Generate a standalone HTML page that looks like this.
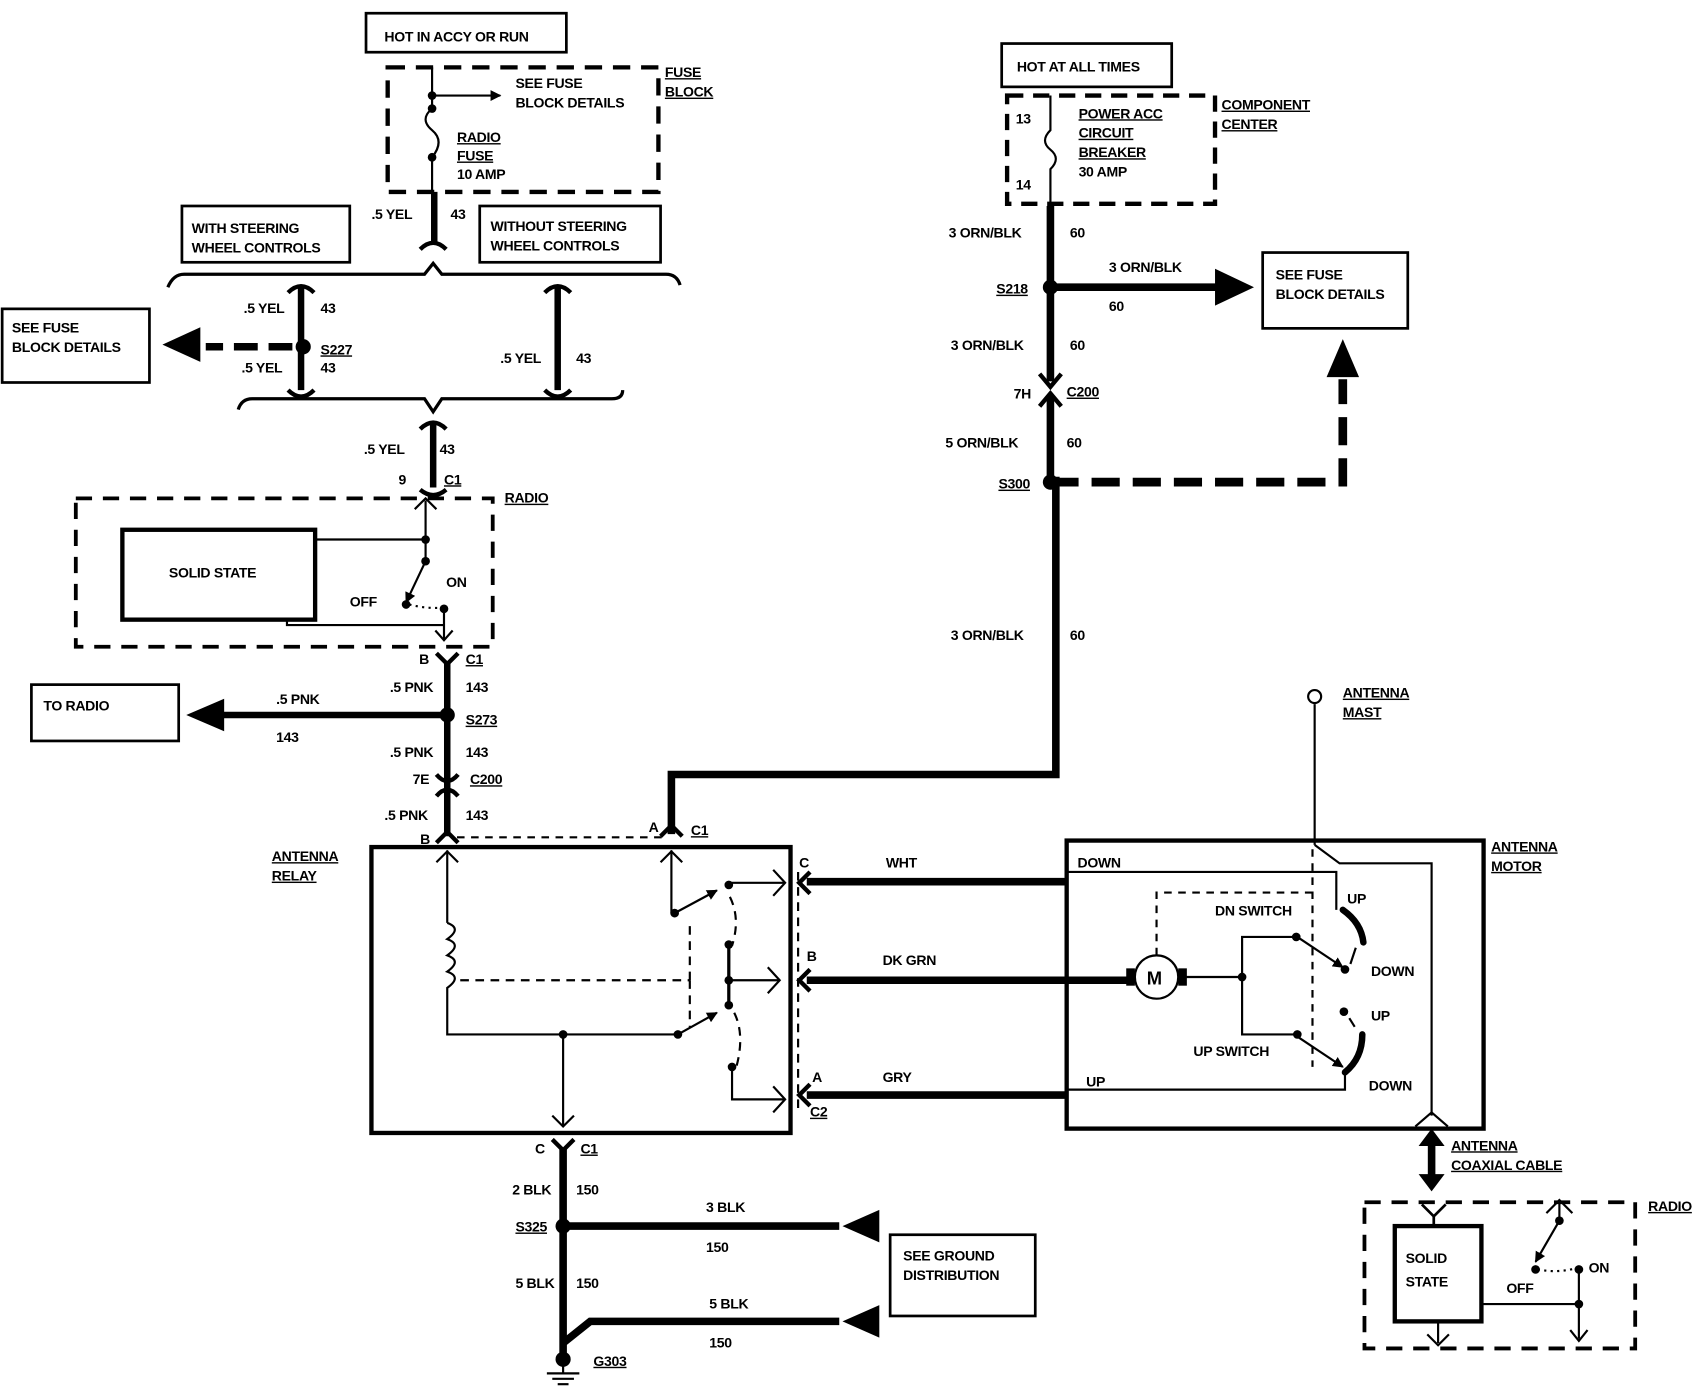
<!DOCTYPE html>
<html><head><meta charset="utf-8"><style>
html,body{margin:0;padding:0;background:#fff;}
svg{display:block}
text{font-family:"Liberation Sans",sans-serif;font-weight:bold;font-size:13px;fill:#000;letter-spacing:-0.3px}
</style></head><body>
<svg width="1698" height="1392" viewBox="0 0 1568 1285" xmlns="http://www.w3.org/2000/svg">
<defs>
<marker id="ah" markerWidth="10" markerHeight="10" refX="9" refY="5" orient="auto" markerUnits="userSpaceOnUse"><path d="M0,0 L10,5 L0,10 z" fill="#000"/></marker>
</defs>
<g fill="none" stroke="#000" stroke-width="2">
<rect x="338" y="12" width="185" height="36" stroke-width="2.5"/>
<rect x="358" y="62" width="250" height="115" stroke-width="4" stroke-dasharray="16,10"/>
<line x1="399" y1="62" x2="399" y2="100"/>
<line x1="399" y1="88" x2="462" y2="88" marker-end="url(#ah)"/>
<path d="M399,100 q-12,10 0,20 q12,10 0,25 L399,190"/>
<line x1="401" y1="177" x2="401" y2="225" stroke-width="6"/>
<path d="M388,230 q12,-12 24,0" stroke-width="4"/>
<rect x="168" y="190" width="155" height="52" stroke-width="2.5"/>
<rect x="443" y="190" width="167" height="52" stroke-width="2.5"/>
<path d="M155,265 q5,-12 15,-12 L392,253 L400,243 L408,253 L615,253 q10,0 13,10" stroke-width="3"/>
<line x1="278" y1="265" x2="278" y2="360" stroke-width="6"/>
<path d="M266,270 q12,-12 24,0 M266,360 q12,12 24,0" stroke-width="4"/>
<line x1="270" y1="320" x2="190" y2="320" stroke-width="7" stroke-dasharray="22,10"/>
<rect x="2" y="285" width="136" height="68" stroke-width="2.5"/>
<line x1="515" y1="265" x2="515" y2="360" stroke-width="6"/>
<path d="M503,270 q12,-12 24,0 M503,360 q12,12 24,0" stroke-width="4"/>
<path d="M220,378 q3,-10 13,-10 L392,368 L400,380 L408,368 L565,368 q10,0 10,-8" stroke-width="3"/>
<line x1="400" y1="390" x2="400" y2="450" stroke-width="6"/>
<path d="M388,396 q12,-12 24,0 M388,452 q12,10 24,0" stroke-width="4"/>
<rect x="70" y="460" width="385" height="137" stroke-width="3.5" stroke-dasharray="15,10"/>
<rect x="113" y="489" width="178" height="83" stroke-width="4"/>
<line x1="393" y1="462" x2="393" y2="518"/>
<path d="M383,470 l10,-10 l10,10"/>
<line x1="291" y1="498" x2="393" y2="498"/>
<line x1="393" y1="518" x2="375" y2="556" marker-end="url(#ah)"/>
<path d="M378,558 q15,4 32,3" stroke-dasharray="2,4"/>
<line x1="410" y1="562" x2="410" y2="590"/>
<path d="M402,582 l8,9 l8,-9"/>
<polyline points="265,572 265,577 410,577"/>
<path d="M403,603 l10,10 l10,-10" stroke-width="4"/>
<line x1="413" y1="612" x2="413" y2="772" stroke-width="6"/>
<line x1="413" y1="660" x2="205" y2="660" stroke-width="6"/>
<rect x="29" y="632" width="136" height="52" stroke-width="2.5"/>
<path d="M403,715 q10,12 20,0 M403,735 q10,-12 20,0" stroke-width="4"/>
<path d="M403,778 l10,-10 l10,10" stroke-width="4"/>
<line x1="422" y1="773" x2="612" y2="773" stroke-dasharray="7,6"/>
<rect x="343" y="782" width="387" height="264" stroke-width="4"/>
<line x1="413" y1="785" x2="413" y2="852"/>
<path d="M403,796 l10,-10 l10,10"/>
<path d="M413,852 q14,5 0,15 q14,5 0,15 q14,5 0,15 q14,5 0,15 L413,955 L625,955"/>
<line x1="425" y1="905" x2="637" y2="905" stroke-dasharray="8,6"/>
<line x1="637" y1="905" x2="637" y2="850" stroke-dasharray="8,6"/>
<line x1="637" y1="905" x2="637" y2="948" stroke-dasharray="8,6"/>
<line x1="520" y1="955" x2="520" y2="1040"/>
<path d="M510,1030 l10,10 l10,-10"/>
<line x1="620" y1="785" x2="620" y2="843"/>
<path d="M610,796 l10,-10 l10,10"/>
<line x1="623" y1="843" x2="662" y2="822" marker-end="url(#ah)"/>
<line x1="673" y1="815" x2="725" y2="815"/>
<path d="M714,803 l11,12 l-11,12"/>
<path d="M674,828 q10,20 2,45" stroke-dasharray="8,6"/>
<line x1="673" y1="872" x2="673" y2="928" stroke-width="3"/>
<line x1="673" y1="905" x2="720" y2="905"/>
<path d="M709,893 l11,12 l-11,12"/>
<line x1="626" y1="955" x2="662" y2="935" marker-end="url(#ah)"/>
<path d="M678,935 q10,20 2,50" stroke-dasharray="8,6"/>
<polyline points="676,985 676,1015 725,1015"/>
<path d="M714,1003 l11,12 l-11,12"/>
<line x1="737" y1="805" x2="737" y2="1025" stroke-dasharray="8,6"/>
<path d="M748,805 l-10,10 l10,10 M748,895 l-10,10 l10,10 M748,1001 l-10,10 l10,10" stroke-width="4"/>
<line x1="745" y1="814" x2="985" y2="814" stroke-width="7"/>
<line x1="745" y1="905" x2="1045" y2="905" stroke-width="7"/>
<line x1="745" y1="1011" x2="985" y2="1011" stroke-width="7"/>
<polyline points="620,770 620,715 975,715 975,440" stroke-width="7"/>
<path d="M610,772 l10,-10 l10,10" stroke-width="4"/>
<rect x="925" y="40" width="157" height="40" stroke-width="2.5"/>
<rect x="930" y="88" width="192" height="100" stroke-width="4" stroke-dasharray="15,9"/>
<path d="M970,88 L970,120 q-10,10 0,18 q10,8 0,18 L970,200"/>
<line x1="970" y1="190" x2="970" y2="352" stroke-width="7"/>
<path d="M960,345 l10,12 l10,-12" stroke-width="4"/>
<path d="M960,375 l10,-12 l10,12" stroke-width="4"/>
<line x1="970" y1="365" x2="970" y2="445" stroke-width="7"/>
<line x1="970" y1="265" x2="1125" y2="265" stroke-width="7"/>
<rect x="1166" y="233" width="134" height="70" stroke-width="2.5"/>
<polyline points="970,445 1240,445 1240,350" stroke-width="8" stroke-dasharray="26,12"/>
<rect x="985" y="776" width="385" height="266" stroke-width="4"/>
<polyline points="985,805 1234,805 1234,840"/>
<line x1="1045" y1="905" x2="985" y2="905"/>
<circle cx="1068" cy="902" r="20"/>
<line x1="1090" y1="902" x2="1147" y2="902"/>
<polyline points="1197,865 1147,865 1147,955 1198,955"/>
<line x1="1198" y1="865" x2="1240" y2="893" marker-end="url(#ah)"/>
<line x1="1198" y1="957" x2="1240" y2="985" marker-end="url(#ah)"/>
<path d="M1240,840 q17,12 19,30" stroke-width="6" stroke-linecap="round"/>
<path d="M1258,955 q0,22 -16,35" stroke-width="6" stroke-linecap="round"/>
<line x1="1252" y1="875" x2="1247" y2="890"/>
<line x1="1246" y1="940" x2="1251" y2="948"/>
<polyline points="985,1006 1242,1006 1242,990"/>
<polyline points="1068,882 1068,824 1212,824" stroke-dasharray="7,6"/>
<line x1="1212" y1="784" x2="1212" y2="985" stroke-dasharray="7,6"/>
<line x1="1214" y1="650" x2="1214" y2="780"/>
<circle cx="1214" cy="643" r="6"/>
<polyline points="1214,780 1237,797 1322,797 1322,1030"/>
<path d="M1307,1040 l15,-13 l15,13"/>
<line x1="1322" y1="1052" x2="1322" y2="1088" stroke-width="7"/>
<rect x="1260" y="1110" width="250" height="135" stroke-width="3.5" stroke-dasharray="15,10"/>
<rect x="1288" y="1132" width="80" height="88" stroke-width="4"/>
<path d="M1313,1112 l11,11 l11,-11 M1324,1123 l0,9" stroke-width="2.5"/>
<line x1="1328" y1="1220" x2="1328" y2="1240"/>
<path d="M1318,1232 l10,10 l10,-10"/>
<line x1="1440" y1="1110" x2="1440" y2="1127"/>
<path d="M1428,1120 l12,-12 l12,12"/>
<line x1="1440" y1="1127" x2="1418" y2="1165" marker-end="url(#ah)"/>
<path d="M1420,1172 q20,4 38,-2" stroke-dasharray="2,4"/>
<polyline points="1368,1204 1458,1204 1458,1236"/>
<line x1="1458" y1="1172" x2="1458" y2="1204"/>
<path d="M1450,1228 l8,10 l8,-10"/>
<path d="M510,1052 l10,10 l10,-10" stroke-width="4"/>
<line x1="520" y1="1060" x2="520" y2="1255" stroke-width="7"/>
<line x1="520" y1="1132" x2="775" y2="1132" stroke-width="7"/>
<polyline points="520,1240 545,1220 775,1220" stroke-width="7"/>
<rect x="822" y="1140" width="134" height="75" stroke-width="2.5"/>
<line x1="520" y1="1255" x2="520" y2="1268"/>
<line x1="505" y1="1268" x2="535" y2="1268"/>
<line x1="510" y1="1273" x2="530" y2="1273"/>
<line x1="515" y1="1278" x2="525" y2="1278"/>
</g>
<g fill="#000">
<circle cx="399" cy="88" r="4"/><circle cx="399" cy="100" r="4"/><circle cx="399" cy="145" r="4"/>
<circle cx="280" cy="320" r="7"/>
<polygon points="150,318 185,302 185,334"/>
<circle cx="393" cy="498" r="4"/><circle cx="393" cy="518" r="4"/><circle cx="375" cy="558" r="4"/><circle cx="410" cy="562" r="4"/>
<circle cx="413" cy="660" r="7"/>
<polygon points="172,660 207,645 207,675"/>
<circle cx="623" cy="843" r="4"/><circle cx="673" cy="817" r="4"/><circle cx="673" cy="872" r="4"/><circle cx="673" cy="905" r="4"/><circle cx="673" cy="928" r="4"/><circle cx="626" cy="955" r="4"/><circle cx="520" cy="955" r="4"/><circle cx="676" cy="985" r="4"/>
<circle cx="970" cy="265" r="7"/><circle cx="970" cy="445" r="7"/>
<polygon points="1158,265 1122,248 1122,282"/>
<polygon points="1240,313 1225,348 1255,348"/>
<rect x="1040" y="894" width="8" height="16"/><rect x="1088" y="894" width="8" height="16"/>
<circle cx="1147" cy="902" r="4"/><circle cx="1197" cy="865" r="4"/><circle cx="1198" cy="955" r="4"/><circle cx="1242" cy="895" r="4"/><circle cx="1241" cy="934" r="4"/>
<polygon points="1322,1042 1310,1058 1334,1058"/><polygon points="1322,1100 1310,1084 1334,1084"/>
<circle cx="1440" cy="1127" r="4"/><circle cx="1418" cy="1172" r="4"/><circle cx="1458" cy="1172" r="4"/><circle cx="1458" cy="1204" r="4"/>
<circle cx="520" cy="1132" r="7"/><circle cx="520" cy="1255" r="7"/>
<polygon points="778,1132 812,1117 812,1147"/><polygon points="778,1220 812,1205 812,1235"/>
</g>
<g>
<text x="1059" y="909" style="font-size:17px">M</text>
<text x="355" y="38">HOT IN ACCY OR RUN</text>
<text x="476" y="81">SEE FUSE</text><text x="476" y="99">BLOCK DETAILS</text>
<text x="614" y="71" text-decoration="underline">FUSE</text><text x="614" y="89" text-decoration="underline">BLOCK</text>
<text x="422" y="131" text-decoration="underline">RADIO</text><text x="422" y="148" text-decoration="underline">FUSE</text><text x="422" y="165">10 AMP</text>
<text x="343" y="202">.5 YEL</text><text x="416" y="202">43</text>
<text x="177" y="215">WITH STEERING</text><text x="177" y="233">WHEEL CONTROLS</text>
<text x="453" y="213">WITHOUT STEERING</text><text x="453" y="231">WHEEL CONTROLS</text>
<text x="11" y="307">SEE FUSE</text><text x="11" y="325">BLOCK DETAILS</text>
<text x="225" y="289">.5 YEL</text><text x="296" y="289">43</text>
<text x="296" y="327" text-decoration="underline">S227</text><text x="296" y="344">43</text>
<text x="223" y="344">.5 YEL</text>
<text x="462" y="335">.5 YEL</text><text x="532" y="335">43</text>
<text x="336" y="419">.5 YEL</text><text x="406" y="419">43</text>
<text x="368" y="447">9</text><text x="410" y="447" text-decoration="underline">C1</text>
<text x="466" y="464" text-decoration="underline">RADIO</text>
<text x="156" y="533">SOLID STATE</text>
<text x="323" y="560">OFF</text><text x="412" y="542">ON</text>
<text x="387" y="613">B</text><text x="430" y="613" text-decoration="underline">C1</text>
<text x="40" y="656">TO RADIO</text>
<text x="360" y="639">.5 PNK</text><text x="430" y="639">143</text>
<text x="255" y="650">.5 PNK</text><text x="255" y="685">143</text>
<text x="430" y="669" text-decoration="underline">S273</text>
<text x="360" y="699">.5 PNK</text><text x="430" y="699">143</text>
<text x="381" y="724">7E</text><text x="434" y="724" text-decoration="underline">C200</text>
<text x="355" y="757">.5 PNK</text><text x="430" y="757">143</text>
<text x="388" y="779">B</text>
<text x="251" y="795" text-decoration="underline">ANTENNA</text><text x="251" y="813" text-decoration="underline">RELAY</text>
<text x="599" y="768">A</text><text x="638" y="771" text-decoration="underline">C1</text>
<text x="738" y="801">C</text><text x="818" y="801">WHT</text>
<text x="745" y="887">B</text><text x="815" y="891">DK GRN</text>
<text x="750" y="999">A</text><text x="815" y="999">GRY</text>
<text x="748" y="1031" text-decoration="underline">C2</text>
<text x="939" y="66">HOT AT ALL TIMES</text>
<text x="938" y="114">13</text><text x="938" y="175">14</text>
<text x="996" y="109" text-decoration="underline">POWER ACC</text><text x="996" y="127" text-decoration="underline">CIRCUIT</text>
<text x="996" y="145" text-decoration="underline">BREAKER</text><text x="996" y="163">30 AMP</text>
<text x="1128" y="101" text-decoration="underline">COMPONENT</text><text x="1128" y="119" text-decoration="underline">CENTER</text>
<text x="876" y="219">3 ORN/BLK</text><text x="988" y="219">60</text>
<text x="920" y="271" text-decoration="underline">S218</text>
<text x="1024" y="251">3 ORN/BLK</text><text x="1024" y="287">60</text>
<text x="1178" y="258">SEE FUSE</text><text x="1178" y="276">BLOCK DETAILS</text>
<text x="878" y="323">3 ORN/BLK</text><text x="988" y="323">60</text>
<text x="936" y="368">7H</text><text x="985" y="366" text-decoration="underline">C200</text>
<text x="873" y="413">5 ORN/BLK</text><text x="985" y="413">60</text>
<text x="922" y="451" text-decoration="underline">S300</text>
<text x="878" y="591">3 ORN/BLK</text><text x="988" y="591">60</text>
<text x="1240" y="644" text-decoration="underline">ANTENNA</text><text x="1240" y="662" text-decoration="underline">MAST</text>
<text x="1377" y="786" text-decoration="underline">ANTENNA</text><text x="1377" y="804" text-decoration="underline">MOTOR</text>
<text x="995" y="801">DOWN</text>
<text x="1122" y="845">DN SWITCH</text>
<text x="1244" y="834">UP</text><text x="1266" y="901">DOWN</text>
<text x="1266" y="942">UP</text>
<text x="1102" y="975">UP SWITCH</text>
<text x="1003" y="1003">UP</text><text x="1264" y="1007">DOWN</text>
<text x="1340" y="1062" text-decoration="underline">ANTENNA</text><text x="1340" y="1080" text-decoration="underline">COAXIAL CABLE</text>
<text x="1522" y="1118" text-decoration="underline">RADIO</text>
<text x="1298" y="1166">SOLID</text><text x="1298" y="1188">STATE</text>
<text x="1391" y="1194">OFF</text><text x="1467" y="1175">ON</text>
<text x="494" y="1065">C</text><text x="536" y="1065" text-decoration="underline">C1</text>
<text x="473" y="1103">2 BLK</text><text x="532" y="1103">150</text>
<text x="476" y="1137" text-decoration="underline">S325</text>
<text x="652" y="1119">3 BLK</text><text x="652" y="1156">150</text>
<text x="834" y="1164">SEE GROUND</text><text x="834" y="1182">DISTRIBUTION</text>
<text x="476" y="1189">5 BLK</text><text x="532" y="1189">150</text>
<text x="655" y="1208">5 BLK</text><text x="655" y="1244">150</text>
<text x="548" y="1261" text-decoration="underline">G303</text>
</g>
</svg>
</body></html>
